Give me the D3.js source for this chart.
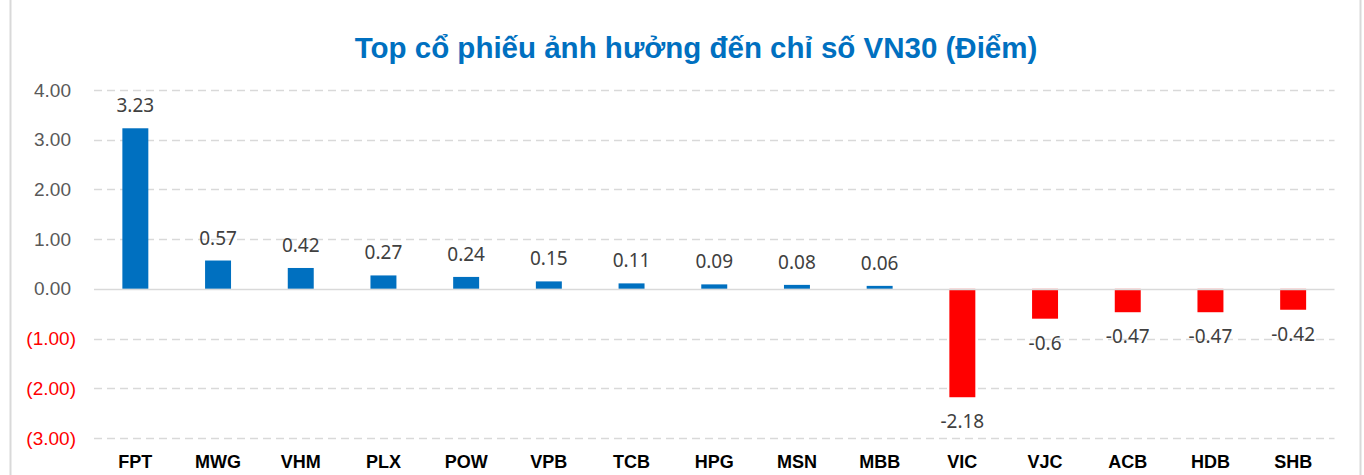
<!DOCTYPE html>
<html>
<head>
<meta charset="utf-8">
<script src="https://cdn.jsdelivr.net/npm/d3@7"></script>
<style>
  body { margin: 0; background: #fff; }
  svg { display: block; }
</style>
</head>
<body>
<div id="chart"></div>
<script>
// data
const tickers = ["FPT", "MWG", "VHM", "PLX", "POW", "VPB", "TCB", "HPG", "MSN", "MBB", "VIC", "VJC", "ACB", "HDB", "SHB"];
const points = [3.23, 0.57, 0.42, 0.27, 0.24, 0.15, 0.11, 0.09, 0.08, 0.06, -2.18, -0.6, -0.47, -0.47, -0.42];
const pointLabels = ["3.23", "0.57", "0.42", "0.27", "0.24", "0.15", "0.11", "0.09", "0.08", "0.06", "-2.18", "-0.6", "-0.47", "-0.47", "-0.42"];
const yTicks = [4, 3, 2, 1, 0, -1, -2, -3];

const width = 1364, height = 475;
const margin = { top: 90, right: 30, bottom: 37, left: 94 };

const svg = d3.select("#chart").append("svg")
    .attr("width", width)
    .attr("height", height);

// frame lines at the image edges
svg.append("line").attr("x1", 10.5).attr("x2", 10.5).attr("y1", 0).attr("y2", height)
    .attr("stroke", "#d9d9d9").attr("stroke-width", 2);
svg.append("line").attr("x1", 1360.5).attr("x2", 1360.5).attr("y1", 0).attr("y2", height)
    .attr("stroke", "#d9d9d9").attr("stroke-width", 2);

svg.append("text")
    .attr("x", 696)
    .attr("y", 58)
    .attr("text-anchor", "middle")
    .attr("font-family", "'Liberation Sans', Arial, sans-serif")
    .attr("font-weight", "bold")
    .attr("font-size", "29.5px")
    .attr("fill", "#0070C0")
    .text("Top cổ phiếu ảnh hưởng đến chỉ số VN30 (Điểm)");

const x = d3.scaleBand()
    .domain(tickers)
    .range([margin.left, 1334.5])
    .paddingInner(0.686)
    .paddingOuter(0.343);

const y = d3.scaleLinear()
    .domain([-3, 4])
    .range([438, 90]);

// gridlines
const grid = svg.append("g");
grid.selectAll("line")
    .data(yTicks.filter(d => d !== 0))
    .enter().append("line")
    .attr("x1", margin.left)
    .attr("x2", 1334.5)
    .attr("y1", d => Math.round(y(d)) + 0.5)
    .attr("y2", d => Math.round(y(d)) + 0.5)
    .attr("stroke", "#d9d9d9")
    .attr("stroke-width", 1.5)
    .attr("stroke-dasharray", "8,5");

// y axis labels (accounting style: negatives in brackets, positives leave room for ")")
const fmt = d => d < 0 ? "(" + d3.format(".2f")(-d) + ")" : d3.format(".2f")(d);
const yAxis = d3.axisLeft(y).tickValues(yTicks).tickFormat(fmt).tickSize(0).tickPadding(0);
const yg = svg.append("g")
    .attr("transform", "translate(76,0)")
    .call(yAxis);
yg.select(".domain").remove();
yg.selectAll("text")
    .attr("x", d => d < 0 ? 0 : -5)
    .attr("font-family", "'Liberation Sans', Arial, sans-serif")
    .attr("font-size", "19px")
    .attr("fill", d => d < 0 ? "#ff0000" : "#595959");

// bars
svg.append("g").selectAll("rect")
    .data(points)
    .enter().append("rect")
    .attr("x", (d, i) => x(tickers[i]))
    .attr("width", x.bandwidth())
    .attr("y", d => y(Math.max(0, d)))
    .attr("height", d => Math.abs(y(d) - y(0)))
    .attr("fill", d => d < 0 ? "#ff0000" : "#0070C0");

// zero line
svg.append("line")
    .attr("x1", margin.left).attr("x2", 1334.5)
    .attr("y1", Math.round(y(0)) + 0.5).attr("y2", Math.round(y(0)) + 0.5)
    .attr("stroke", "#d9d9d9")
    .attr("stroke-width", 1.5);

// value labels
svg.append("g").selectAll("text")
    .data(points)
    .enter().append("text")
    .attr("x", (d, i) => x(tickers[i]) + x.bandwidth() / 2)
    .attr("y", d => d >= 0 ? y(d) - 16 : y(d) + 31)
    .attr("text-anchor", "middle")
    .attr("font-family", "'Noto Sans', sans-serif")
    .attr("font-size", "19px")
    .attr("fill", "#404040")
    .text((d, i) => pointLabels[i]);

// category labels
const xAxis = d3.axisBottom(x).tickSize(0).tickPadding(0);
const xg = svg.append("g")
    .attr("transform", "translate(0,455)")
    .call(xAxis);
xg.select(".domain").remove();
xg.selectAll("text")
    .attr("dy", "0.71em")
    .attr("font-family", "'Liberation Sans', Arial, sans-serif")
    .attr("font-weight", "bold")
    .attr("font-size", "18px")
    .attr("fill", "#000");
</script>
</body>
</html>
